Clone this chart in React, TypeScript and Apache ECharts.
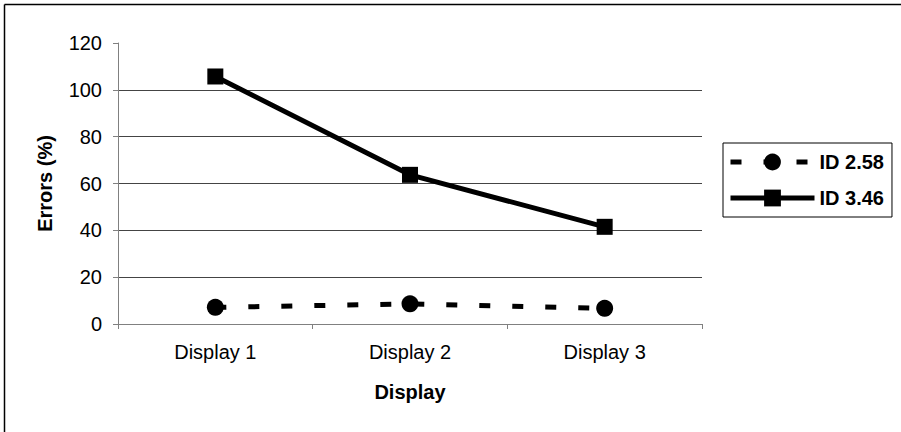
import React, { useEffect, useRef } from "react";
import * as echarts from "echarts";

const categories = ["Display 1", "Display 2", "Display 3"];
const seriesNames = ["ID 2.58", "ID 3.46"];
const id258 = [7.1, 8.6, 6.7];
const id346 = [105.7, 63.7, 41.5];
const yMin = 0;
const yMax = 120;
const yInterval = 20;

const FONT = "Liberation Sans, Arial, sans-serif";

export default function App() {
  const ref = useRef<HTMLDivElement>(null);
  useEffect(() => {
    document.body.style.margin = "0";
    if (!ref.current) return;
    const chart = echarts.init(ref.current, undefined, { renderer: "svg" });
    chart.setOption({
      animation: false,
      backgroundColor: "#fff",
      textStyle: { fontFamily: FONT },
      grid: { left: 118, right: 199, top: 43, bottom: 108, containLabel: false },
      graphic: [
        { type: "line", shape: { x1: 4.5, y1: 4.5, x2: 901, y2: 4.5 }, style: { stroke: "#000", lineWidth: 1.5 } },
        { type: "line", shape: { x1: 4.5, y1: 4.5, x2: 4.5, y2: 432 }, style: { stroke: "#000", lineWidth: 1.5 } },
      ],
      legend: {
        orient: "vertical",
        left: 723,
        top: 143,
        width: 172,
        padding: [9, 8, 9, 5],
        itemGap: 16,
        itemWidth: 84,
        itemHeight: 21,
        borderColor: "#000",
        borderWidth: 1,
        backgroundColor: "#fff",
        data: seriesNames,
        lineStyle: { width: 5 },
        textStyle: { fontFamily: FONT, fontSize: 20, fontWeight: "bold", color: "#000" },
      },
      xAxis: {
        type: "category",
        data: categories,
        boundaryGap: true,
        name: "Display",
        nameLocation: "middle",
        nameGap: 58,
        nameTextStyle: { fontFamily: FONT, fontSize: 20, fontWeight: "bold", color: "#000" },
        axisLine: { lineStyle: { color: "#808080", width: 1 } },
        axisTick: { show: true, length: 5, lineStyle: { color: "#808080" } },
        axisLabel: { margin: 18, fontFamily: FONT, fontSize: 20, color: "#000" },
        splitLine: { show: false },
      },
      yAxis: {
        type: "value",
        min: yMin,
        max: yMax,
        interval: yInterval,
        name: "Errors (%)",
        nameLocation: "middle",
        nameGap: 63,
        nameTextStyle: { fontFamily: FONT, fontSize: 20, fontWeight: "bold", color: "#000" },
        axisLine: { show: true, lineStyle: { color: "#808080", width: 1 } },
        axisTick: { show: true, length: 5, lineStyle: { color: "#808080" } },
        axisLabel: { margin: 16, fontFamily: FONT, fontSize: 20, color: "#000" },
        splitLine: { show: true, showMinLine: false, showMaxLine: false, lineStyle: { color: "#444", width: 1 } },
      },
      series: [
        {
          name: seriesNames[0],
          type: "line",
          data: id258,
          symbol: "circle",
          symbolSize: 17,
          itemStyle: { color: "#000" },
          lineStyle: { color: "#000", width: 5, type: [11, 22], cap: "butt" },
        },
        {
          name: seriesNames[1],
          type: "line",
          data: id346,
          symbol: "rect",
          symbolSize: 16,
          itemStyle: { color: "#000" },
          lineStyle: { color: "#000", width: 5, type: "solid" },
        },
      ],
    });
    return () => chart.dispose();
  }, []);
  return <div ref={ref} style={{ width: 901, height: 432 }} />;
}
